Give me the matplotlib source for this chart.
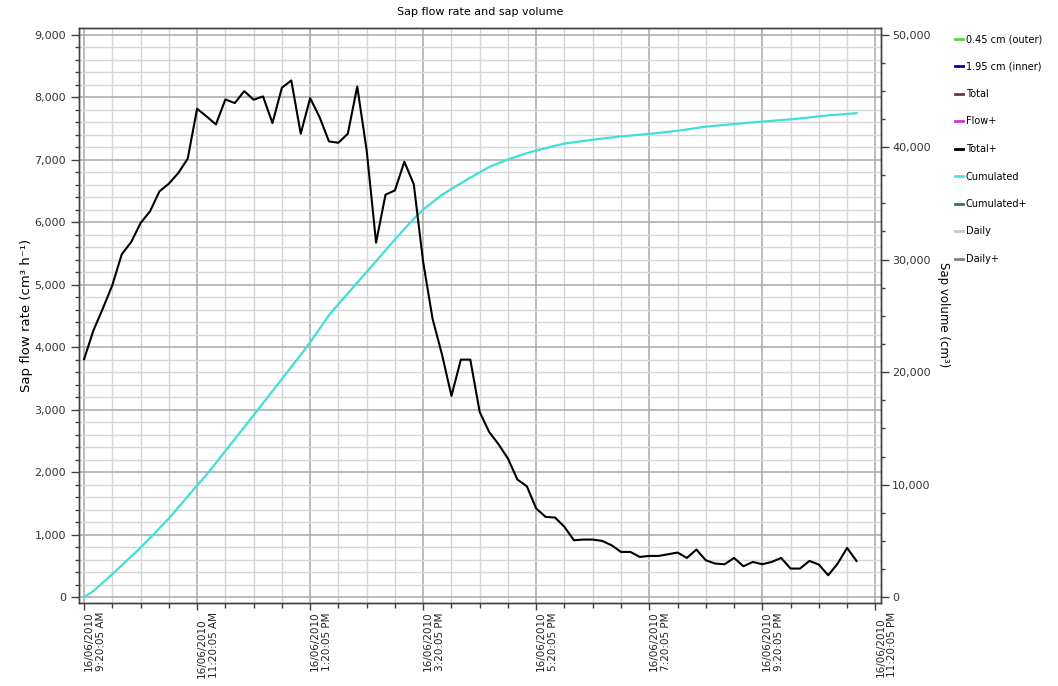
import numpy as np
import pandas as pd
import matplotlib
matplotlib.use('Agg')
import matplotlib.pyplot as plt
import matplotlib.dates as mdates
from matplotlib.ticker import MultipleLocator, FuncFormatter, FixedLocator
from matplotlib.lines import Line2D

plt.rcParams['font.family'] = ['DejaVu Sans']

# lecturas cada 10 minutos
tiempos = pd.date_range('2010-06-16 09:20:05', periods=83, freq='10min')

flujo_total = [
    3805, 4270, 4620, 4990, 5484, 5680, 5985, 6171, 6491, 6614,
    6784, 7013, 7813, 7690, 7562, 7962, 7903, 8095, 7957, 8010,
    7583, 8149, 8265, 7413, 7983, 7679, 7290, 7269, 7413, 8169,
    7146, 5671, 6438, 6507, 6965, 6606, 5360, 4450, 3880, 3220,
    3800, 3800, 2963, 2643, 2446, 2217, 1882, 1775, 1418, 1284,
    1274, 1124, 911, 922, 922, 900, 831, 724, 724, 644,
    660, 660, 687, 714, 628, 762, 591, 538, 527, 628,
    495, 564, 527, 564, 628, 458, 458, 580, 522, 351,
    538, 788, 580,
]

acumulado = [
    0, 550, 1300, 2050, 2830, 3620, 4400, 5260, 6130, 7000,
    7970, 8950, 9930, 10890, 11930, 12990, 14050, 15110, 16170, 17240,
    18310, 19380, 20460, 21540, 22650, 23850, 25060, 26040, 26990, 27950,
    28900, 29860, 30820, 31790, 32720, 33620, 34440, 35100, 35760, 36280,
    36780, 37280, 37750, 38230, 38570, 38890, 39180, 39460, 39690, 39900,
    40110, 40310, 40420, 40540, 40650, 40750, 40850, 40950, 41020, 41100,
    41170, 41260, 41350, 41450, 41560, 41690, 41810, 41890, 41970, 42040,
    42120, 42190, 42260, 42330, 42400, 42460, 42540, 42630, 42730, 42820,
    42880, 42940, 43010,
]

# leyenda (nombre, color)
series_leyenda = ['0.45 cm (outer)', '1.95 cm (inner)', 'Total', 'Flow+', 'Total+',
                  'Cumulated', 'Cumulated+', 'Daily', 'Daily+']
colores_leyenda = ['#55d055', '#0000a0', '#703050', '#c83cc8', '#000000',
                   '#50e0e0', '#2f7070', '#c8c8c8', '#808080']

ticks_mayores = pd.date_range('2010-06-16 09:20:05', '2010-06-16 23:20:05', freq='2h')
ticks_menores = pd.date_range('2010-06-16 09:20:05', '2010-06-16 23:20:05', freq='30min')

gris_eje = '#404040'
fig = plt.figure(figsize=(10.58, 6.86), dpi=100)
ax = fig.add_axes([0.075, 0.1217, 0.7577, 0.8382])
ax2 = ax.twinx()

ax2.plot(tiempos, acumulado, color='#40e0d6', lw=1.6, zorder=2)
ax2.plot(tiempos, flujo_total, color='black', lw=1.5, zorder=3, transform=ax.transData)

ax.set_xlim(pd.Timestamp('2010-06-16 09:15:05'), pd.Timestamp('2010-06-16 23:26:05'))
ax.set_ylim(-85, 9112)
ax2.set_ylim(-472, 50622)

ax.xaxis.set_major_locator(FixedLocator(mdates.date2num(ticks_mayores)))
ax.xaxis.set_minor_locator(FixedLocator(mdates.date2num(ticks_menores)))


def fmt_fecha(x, pos=None):
    d = mdates.num2date(x)
    h = d.hour % 12
    if h == 0:
        h = 12
    ampm = 'AM' if d.hour < 12 else 'PM'
    return f'{d:%d/%m/%Y}\n{h}:{d:%M:%S} {ampm}'


ax.xaxis.set_major_formatter(FuncFormatter(fmt_fecha))
plt.setp(ax.xaxis.get_majorticklabels(), rotation=90, ha='left', va='top',
         multialignment='left', fontsize=7.5, color='#222222')

miles = FuncFormatter(lambda v, p: f'{v:,.0f}')
ax.yaxis.set_major_locator(MultipleLocator(1000))
ax.yaxis.set_minor_locator(MultipleLocator(200))
ax.yaxis.set_major_formatter(miles)
ax2.yaxis.set_major_locator(MultipleLocator(10000))
ax2.yaxis.set_minor_locator(MultipleLocator(2500))
ax2.yaxis.set_major_formatter(miles)

ax.grid(which='minor', color='#d6d6d6', lw=1.0)
ax.grid(which='major', color='#a8a8a8', lw=1.1)
ax.set_axisbelow(True)

ax.tick_params(axis='y', which='major', length=6, width=1, color=gris_eje, pad=3.5,
               labelsize=8, labelcolor='#333333')
ax.tick_params(axis='y', which='minor', length=3, width=1, color=gris_eje)
ax.tick_params(axis='x', which='major', length=5, width=1, color=gris_eje, pad=1.5)
ax.tick_params(axis='x', which='minor', length=3.5, width=1, color=gris_eje)
ax2.tick_params(axis='y', which='major', length=6, width=1, color=gris_eje, pad=2,
                labelsize=8, labelcolor='#333333')
ax2.tick_params(axis='y', which='minor', length=3, width=1, color=gris_eje)

for a in (ax, ax2):
    for s in a.spines.values():
        s.set_color(gris_eje)
        s.set_linewidth(1.0)

ax.set_title('Sap flow rate and sap volume', fontsize=8, pad=9)
ax.set_ylabel('Sap flow rate (cm³ h⁻¹)', fontsize=9.5)
ax.yaxis.set_label_coords(-0.058, 0.5)
ax2.set_ylabel('Sap volume (cm³)', fontsize=8.5, rotation=270, va='bottom')
ax2.yaxis.set_label_coords(1.07, 0.5)

manejadores = [Line2D([], [], color=c, lw=2) for c in colores_leyenda]
fig.legend(manejadores, series_leyenda, loc='upper left',
           bbox_to_anchor=(955 / 1058, 1 - 34 / 686), frameon=False,
           fontsize=7, handlelength=0.8, handletextpad=0.3, labelspacing=1.8,
           borderpad=0, borderaxespad=0)

fig.savefig('out.png', dpi=100)
